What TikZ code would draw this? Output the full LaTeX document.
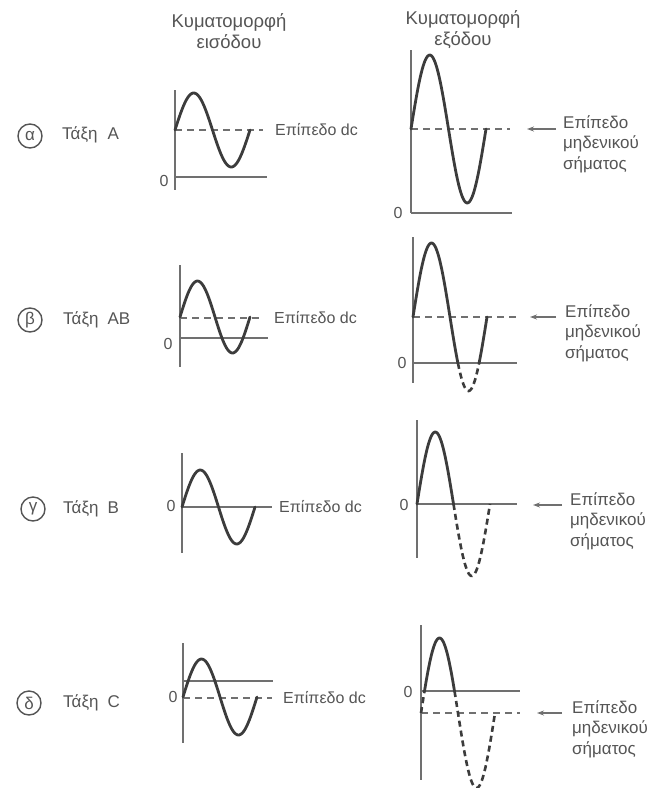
\documentclass[tikz,border=0pt]{standalone}
\usepackage{fontspec}
\setmainfont{Liberation Sans}
\usetikzlibrary{arrows.meta}
\definecolor{txt}{HTML}{555555}
\definecolor{axc}{HTML}{707070}
\definecolor{wav}{HTML}{3C3C3C}
\begin{document}
\begin{tikzpicture}[x=1pt,y=-1pt,
  lbl/.style={font=\fontsize{16}{20}\selectfont, text=txt, inner sep=0pt},
  cls/.style={font=\fontsize{17}{20}\selectfont, text=txt, inner sep=0pt, anchor=west},
  hdr/.style={font=\fontsize{18.5}{21}\selectfont, text=txt, align=center, inner sep=0pt},
  rlbl/.style={font=\fontsize{17}{20.5}\selectfont, text=txt, align=left, inner sep=0pt, anchor=north west},
  circ/.style={circle, draw=txt, line width=1.4pt, minimum size=24pt, inner sep=0pt, font=\fontsize{17}{17}\selectfont, text=txt},
  axis/.style={draw=axc, line width=1.5pt},
  lev/.style={draw=axc, line width=1.5pt, dash pattern=on 7pt off 5pt},
  wave/.style={draw=wav, line width=2.8pt, line cap=round, smooth},
  dwave/.style={draw=wav, line width=2.6pt, smooth, dash pattern=on 6pt off 4pt},
  arr/.style={draw=axc, line width=1.3pt, -{Stealth[length=7pt,width=5pt]}}]
\useasboundingbox (0,0) rectangle (660,788);

% headers
\node[hdr] (hin) at (229,31) {Κυματομορφή\\εισόδου};
\node[hdr] (hout) at (463,30) {Κυματομορφή\\εξόδου};

% ---------- row alpha ----------
\node[circ] (ca) at (30,136) {α};
\node[cls] (ta) at (62,135) {Τάξη\hspace{10pt}A};
\draw[axis] (175,90) -- (175,190);
\draw[axis] (175,177) -- (267,177);
\draw[lev] (175,130) -- (263,130);
\node[lbl] (za) at (164,181) {0};
\draw[wave] plot[domain=0:360, samples=60] ({175+(\x/360)*75},{130-37*sin(\x)});
\node[lbl, anchor=west] (dca) at (275,130) {Επίπεδο dc};
\draw[axis] (411,50) -- (411,213);
\draw[axis] (411,213) -- (512,213);
\draw[lev] (411,129) -- (510,129);
\node[lbl] (zoa) at (398,213) {0};
\draw[wave] plot[domain=0:360, samples=60] ({411+(\x/360)*75},{129-74*sin(\x)});
\coordinate (aat) at (556,129);
\coordinate (aah) at (527,129);
\draw[arr] (aat) -- (aah);
\node[rlbl] (la) at (563,115) {Επίπεδο\\μηδενικού\\σήματος};

% ---------- row beta ----------
\node[circ] (cb) at (30,320) {β};
\node[cls] (tb) at (63,320) {Τάξη\hspace{9pt}AB};
\draw[axis] (180,265) -- (180,367);
\draw[axis] (180,338) -- (268,338);
\draw[lev] (180,318) -- (263,318);
\node[lbl] (zb) at (168,344) {0};
\draw[wave] plot[domain=0:360, samples=60] ({180+(\x/360)*70},{317-36*sin(\x)});
\node[lbl, anchor=west] (dcb) at (274,318) {Επίπεδο dc};
\draw[axis] (413,237) -- (413,383);
\draw[axis] (413,363) -- (517,363);
\draw[lev] (413,317) -- (517,317);
\node[lbl] (zob) at (402,363) {0};
\draw[wave] plot[domain=0:218.4, samples=50] ({413+(\x/360)*74},{317-74*sin(\x)});
\draw[dwave] plot[domain=218.4:321.6, samples=25] ({413+(\x/360)*74},{317-74*sin(\x)});
\draw[wave] plot[domain=321.6:360, samples=12] ({413+(\x/360)*74},{317-74*sin(\x)});
\coordinate (abt) at (556,317);
\coordinate (abh) at (530,317);
\draw[arr] (abt) -- (abh);
\node[rlbl] (lb) at (565,304) {Επίπεδο\\μηδενικού\\σήματος};

% ---------- row gamma ----------
\node[circ] (cg) at (33,509) {γ};
\node[cls] (tg) at (63,509) {Τάξη\hspace{9pt}B};
\draw[axis] (182,453) -- (182,553);
\draw[axis] (182,507) -- (272,507);
\node[lbl] (zg) at (171,506) {0};
\draw[wave] plot[domain=0:360, samples=60] ({182+(\x/360)*73},{507-37*sin(\x)});
\node[lbl, anchor=west] (dcg) at (279,507) {Επίπεδο dc};
\draw[axis] (417,420) -- (417,558);
\draw[axis] (417,504) -- (517,504);
\node[lbl] (zog) at (404,505) {0};
\draw[wave] plot[domain=0:180, samples=40] ({417+(\x/360)*73},{504-72*sin(\x)});
\draw[dwave] plot[domain=180:360, samples=40] ({417+(\x/360)*73},{504-72*sin(\x)});
\coordinate (agt) at (562,505);
\coordinate (agh) at (533,505);
\draw[arr] (agt) -- (agh);
\node[rlbl] (lg) at (570,492) {Επίπεδο\\μηδενικού\\σήματος};

% ---------- row delta ----------
\node[circ] (cd) at (29,703) {δ};
\node[cls] (td) at (63,703) {Τάξη\hspace{9pt}C};
\draw[axis] (183,643) -- (183,743);
\draw[axis] (183,681) -- (273,681);
\draw[lev] (183,698) -- (272,698);
\node[lbl] (zd) at (173,697) {0};
\draw[wave] plot[domain=0:360, samples=60] ({183+(\x/360)*74},{697-38*sin(\x)});
\node[lbl, anchor=west] (dcd) at (283,698) {Επίπεδο dc};
\draw[axis] (421,625) -- (421,780);
\draw[axis] (421,691) -- (520,691);
\draw[lev] (421,713) -- (520,713);
\node[lbl] (zod) at (408,692) {0};
\draw[dwave] plot[domain=0:17, samples=6] ({421+(\x/360)*74},{713-75*sin(\x)});
\draw[wave] plot[domain=17:163, samples=40] ({421+(\x/360)*74},{713-75*sin(\x)});
\draw[dwave] plot[domain=163:360, samples=50] ({421+(\x/360)*74},{713-75*sin(\x)});
\coordinate (adt) at (562,713);
\coordinate (adh) at (537,713);
\draw[arr] (adt) -- (adh);
\node[rlbl] (ld) at (572,700) {Επίπεδο\\μηδενικού\\σήματος};
\end{tikzpicture}
\end{document}
